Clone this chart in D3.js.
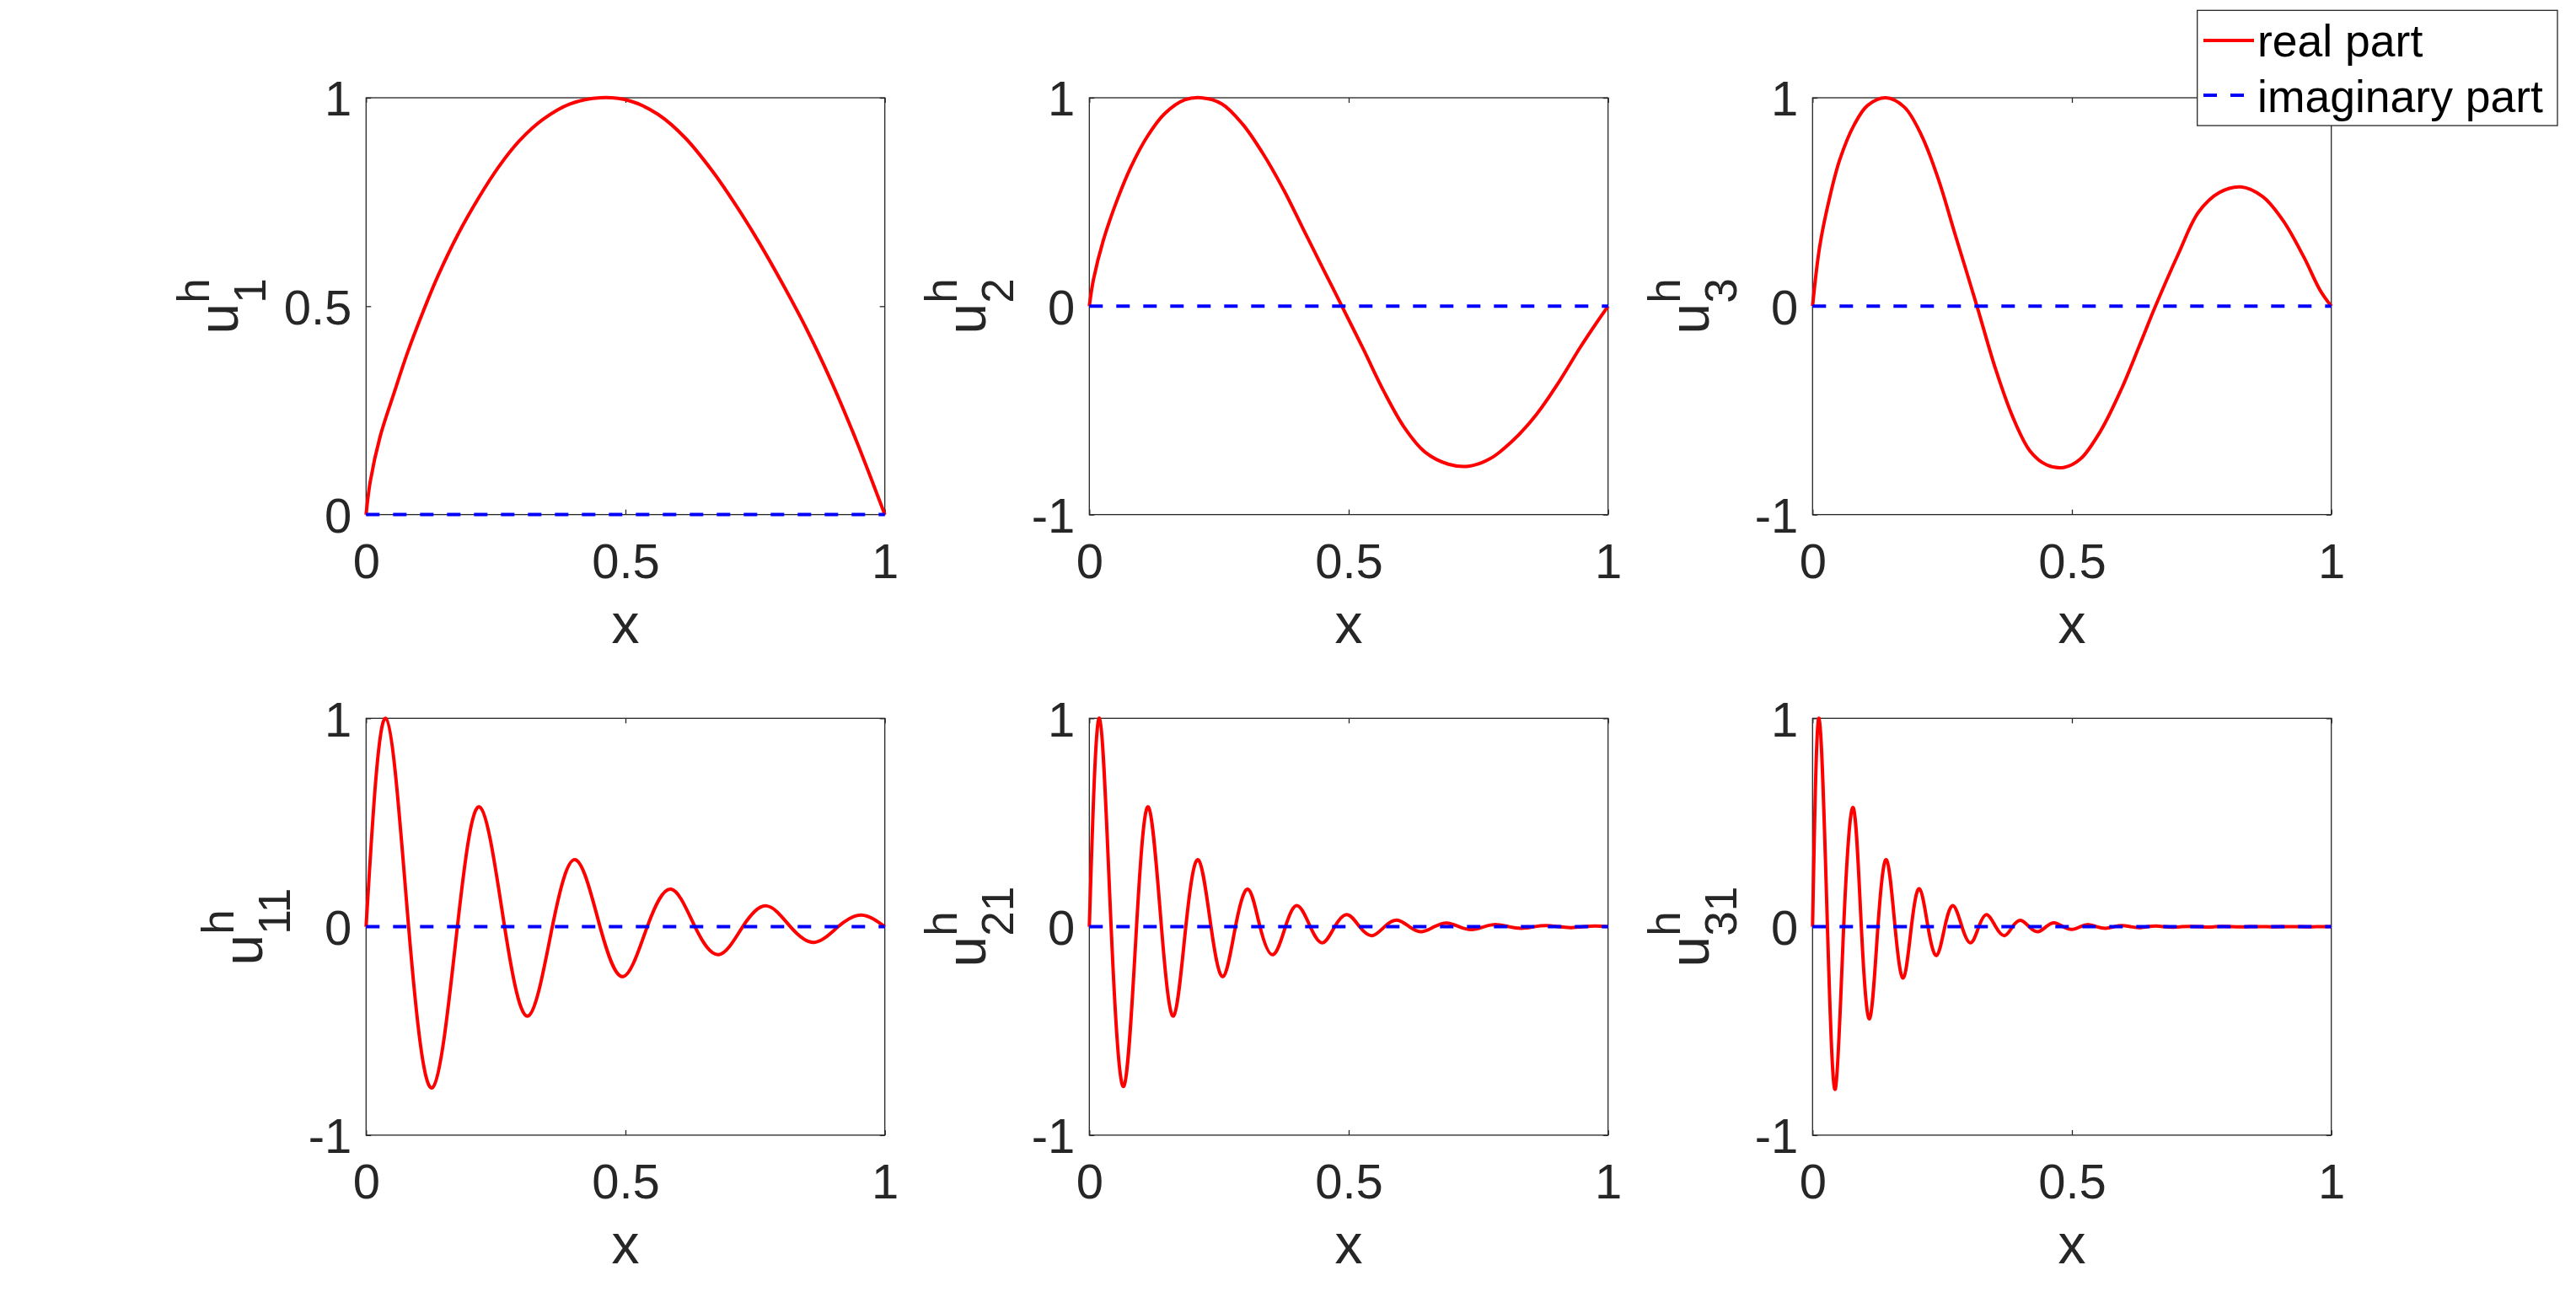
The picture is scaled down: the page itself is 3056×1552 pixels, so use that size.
<!DOCTYPE html>
<html>
<head>
<meta charset="utf-8">
<script src="https://cdn.jsdelivr.net/npm/d3@7"></script>
<style>
  body { margin: 0; background: #fff; }
  text { font-family: "Liberation Sans", Arial, Helvetica, sans-serif; }
</style>
</head>
<body>
<div id="chart"></div>
<script>
// values
var xTicks = [0, 0.5, 1]
var xTickLabels = ["0", "0.5", "1"]
var yTicksPos = [0, 0.5, 1]
var yTickLabelsPos = ["0", "0.5", "1"]
var yTicksSym = [-1, 0, 1]
var yTickLabelsSym = ["-1", "0", "1"]

var u1X = [0, 0.008, 0.027, 0.054, 0.080, 0.109, 0.138, 0.177, 0.217, 0.256, 0.295, 0.341, 0.393, 0.452, 0.510, 0.563, 0.615, 0.667, 0.713, 0.758, 0.804, 0.850, 0.896, 0.941, 0.974, 1.0]
var u1Y = [0, 0.079, 0.187, 0.292, 0.389, 0.484, 0.571, 0.672, 0.760, 0.835, 0.896, 0.948, 0.985, 1.0, 0.992, 0.960, 0.904, 0.825, 0.742, 0.652, 0.551, 0.443, 0.322, 0.19, 0.085, 0]

var u2X = [0, 0.008, 0.027, 0.053, 0.080, 0.112, 0.145, 0.184, 0.216, 0.256, 0.295, 0.334, 0.373, 0.412, 0.451, 0.487, 0.529, 0.568, 0.608, 0.647, 0.692, 0.731, 0.771, 0.816, 0.862, 0.907, 0.947, 0.979, 1.0]
var u2Y = [0, 0.128, 0.316, 0.505, 0.667, 0.815, 0.923, 0.990, 1.0, 0.970, 0.875, 0.735, 0.566, 0.372, 0.178, 0, -0.21, -0.41, -0.585, -0.70, -0.758, -0.768, -0.734, -0.646, -0.519, -0.357, -0.195, -0.075, 0]

var u3X = [0, 0.014, 0.034, 0.053, 0.080, 0.106, 0.141, 0.177, 0.210, 0.242, 0.275, 0.317, 0.353, 0.386, 0.419, 0.451, 0.484, 0.516, 0.555, 0.595, 0.630, 0.661, 0.705, 0.744, 0.784, 0.826, 0.868, 0.907, 0.947, 0.979, 1.0]
var u3Y = [0, 0.290, 0.532, 0.707, 0.869, 0.963, 1.0, 0.955, 0.820, 0.613, 0.343, 0, -0.303, -0.532, -0.694, -0.761, -0.774, -0.734, -0.60, -0.40, -0.19, 0, 0.25, 0.451, 0.545, 0.572, 0.525, 0.411, 0.236, 0.074, 0]

// row 2: extrema and zero crossings
var u11X = [0, 0.038, 0.082, 0.128, 0.176, 0.2195, 0.267, 0.3127, 0.359, 0.404, 0.451, 0.496, 0.542, 0.588, 0.634, 0.680, 0.726, 0.772, 0.818, 0.864, 0.910, 0.955, 1.0]
var u11Y = [0, 1.0, 0, -0.772, 0, 0.574, 0, -0.428, 0, 0.321, 0, -0.239, 0, 0.18, 0, -0.134, 0, 0.10, 0, -0.075, 0, 0.056, 0]

var u21X = [0, 0.0195, 0.042, 0.0666, 0.091, 0.114, 0.139, 0.1625, 0.186, 0.210, 0.2346, 0.258, 0.2817, 0.306, 0.329, 0.354, 0.378, 0.401, 0.426, 0.4496, 0.473, 0.497, 0.521, 0.545, 0.569, 0.593, 0.617, 0.641, 0.665, 0.689, 0.713, 0.737, 0.761, 0.785, 0.809, 0.833, 0.857, 0.881, 0.905, 0.929, 0.953, 0.976, 1.0]
var u21Y = [0, 1.0, 0, -0.765, 0, 0.574, 0, -0.428, 0, 0.321, 0, -0.239, 0, 0.18, 0, -0.134, 0, 0.101, 0, -0.077, 0, 0.058, 0, -0.043, 0, 0.032, 0, -0.024, 0, 0.018, 0, -0.0135, 0, 0.010, 0, -0.0075, 0, 0.0056, 0, -0.0042, 0, 0.003, 0]

var u31X = [0, 0.0125, 0.0287, 0.0439, 0.060, 0.0785, 0.094, 0.110, 0.126, 0.1425, 0.159, 0.175, 0.1905, 0.206, 0.2225, 0.239, 0.255, 0.271, 0.288, 0.305, 0.3205, 0.336, 0.353, 0.370, 0.3855, 0.401, 0.4175, 0.434, 0.45, 0.466, 0.483, 0.500, 0.516, 0.532, 0.548, 0.565, 0.581, 0.597, 0.6135, 0.630, 0.646, 0.662, 0.6785, 0.695, 0.711, 0.727, 0.7435, 0.760, 0.776, 0.792, 0.8085, 0.825, 0.841, 0.857, 0.8735, 0.890, 0.906, 0.922, 0.9385, 0.955, 0.971, 0.987, 1.0]
var u31Y = [0, 1.0, 0, -0.779, 0, 0.571, 0, -0.441, 0, 0.321, 0, -0.246, 0, 0.182, 0, -0.138, 0, 0.101, 0, -0.077, 0, 0.058, 0, -0.043, 0, 0.031, 0, -0.024, 0, 0.019, 0, -0.013, 0, 0.010, 0, -0.0075, 0, 0.0056, 0, -0.0042, 0, 0.0032, 0, -0.0024, 0, 0.0018, 0, -0.0013, 0, 0.001, 0, -0.0008, 0, 0.0006, 0, -0.0004, 0, 0.0003, 0, -0.0002, 0, 0.0002, 0]

// imaginary part is zero everywhere
var imagX = [0, 1]
var imagY = [0, 0]

var subscripts = ["1", "2", "3", "11", "21", "31"]
var legendLabels = ["real part", "imaginary part"]

// layout
var colLeft = [434.3, 1292.3, 2150.3]
var rowTop = [116, 852.3]
var pw = 615.4, ph = 494.6
var ink = "#262626"

var smooth = d3.curveCatmullRom.alpha(0.5)
var panels = [
  {xs: u1X, ys: u1Y, dom: [0, 1], ticks: yTicksPos, labels: yTickLabelsPos, curve: smooth},
  {xs: u2X, ys: u2Y, dom: [-1, 1], ticks: yTicksSym, labels: yTickLabelsSym, curve: smooth},
  {xs: u3X, ys: u3Y, dom: [-1, 1], ticks: yTicksSym, labels: yTickLabelsSym, curve: smooth},
  {xs: u11X, ys: u11Y, dom: [-1, 1], ticks: yTicksSym, labels: yTickLabelsSym, curve: d3.curveNatural},
  {xs: u21X, ys: u21Y, dom: [-1, 1], ticks: yTicksSym, labels: yTickLabelsSym, curve: d3.curveNatural},
  {xs: u31X, ys: u31Y, dom: [-1, 1], ticks: yTicksSym, labels: yTickLabelsSym, curve: d3.curveNatural}
]

var svg = d3.select("#chart")
  .append("svg")
    .attr("width", 3056)
    .attr("height", 1552)

svg.append("rect")
  .attr("width", 3056)
  .attr("height", 1552)
  .attr("fill", "#fff")

function styleAxis(ax) {
  ax.select(".domain").remove()
  ax.selectAll("line").attr("stroke", ink).attr("stroke-width", 1.3)
  ax.selectAll("text").attr("fill", ink).style("font-size", "58px")
}

panels.forEach(function(p, i) {
  var left = colLeft[i % 3], top = rowTop[Math.floor(i / 3)]
  var g = svg.append("g")
    .attr("transform", "translate(" + left + "," + top + ")")

  var x = d3.scaleLinear().domain([0, 1]).range([0, pw])
  var y = d3.scaleLinear().domain(p.dom).range([ph, 0])

  // ticks, inward on all four sides
  var xb = g.append("g")
    .attr("transform", "translate(0," + ph + ")")
    .call(d3.axisBottom(x).tickValues(xTicks).tickFormat(function(d, j) { return xTickLabels[j] }).tickSize(-6).tickSizeOuter(0))
  styleAxis(xb)
  xb.selectAll("text").attr("y", 75).attr("dy", null)

  var xt = g.append("g")
    .call(d3.axisTop(x).tickValues(xTicks).tickFormat("").tickSize(-6).tickSizeOuter(0))
  styleAxis(xt)

  var yl = g.append("g")
    .call(d3.axisLeft(y).tickValues(p.ticks).tickFormat(function(d, j) { return p.labels[j] }).tickSize(-6).tickSizeOuter(0))
  styleAxis(yl)
  yl.selectAll("text").attr("x", -17).attr("dy", "0.36em")

  var yr = g.append("g")
    .attr("transform", "translate(" + pw + ",0)")
    .call(d3.axisRight(y).tickValues(p.ticks).tickFormat("").tickSize(-6).tickSizeOuter(0))
  styleAxis(yr)

  // box
  g.append("rect")
    .attr("width", pw)
    .attr("height", ph)
    .attr("fill", "none")
    .attr("stroke", ink)
    .attr("stroke-width", 1.3)

  // real part
  var line = d3.line()
    .x(function(d) { return x(d[0]) })
    .y(function(d) { return y(d[1]) })
  g.append("path")
    .datum(d3.zip(p.xs, p.ys))
    .attr("d", line.curve(p.curve))
    .attr("fill", "none")
    .attr("stroke", "#ff0000")
    .attr("stroke-width", 4)

  // imaginary part
  g.append("path")
    .datum(d3.zip(imagX, imagY))
    .attr("d", d3.line().x(function(d) { return x(d[0]) }).y(function(d) { return y(d[1]) }))
    .attr("fill", "none")
    .attr("stroke", "#0000ff")
    .attr("stroke-width", 4)
    .attr("stroke-dasharray", "16,16")

  // x label
  g.append("text")
    .attr("x", pw / 2)
    .attr("y", ph + 152)
    .attr("text-anchor", "middle")
    .attr("fill", ink)
    .style("font-size", "66px")
    .text("x")

  // y label u^h_k, rotated
  var tw = d3.max(yl.selectAll("text").nodes(), function(n) { return n.getComputedTextLength() })
  var bx = -17 - tw - 55
  var lab = g.append("g")
    .attr("transform", "translate(" + bx + "," + (ph / 2) + ") rotate(-90)")
    .attr("fill", ink)
  var u = lab.append("text").style("font-size", "66px").text("u")
  var uw = u.node().getComputedTextLength()
  var h = lab.append("text").attr("x", uw).attr("y", -34).style("font-size", "53px").text("h")
  var s = lab.append("text").attr("x", uw).attr("y", 33).style("font-size", "53px").text(subscripts[i])
  var total = uw + Math.max(h.node().getComputedTextLength(), s.node().getComputedTextLength())
  u.attr("x", -total / 2)
  h.attr("x", uw - total / 2)
  s.attr("x", uw - total / 2)
})

// legend
var lg = svg.append("g")
lg.append("rect")
  .attr("x", 2606.7)
  .attr("y", 12.3)
  .attr("width", 427.3)
  .attr("height", 136.7)
  .attr("fill", "#fff")
  .attr("stroke", ink)
  .attr("stroke-width", 1.3)

lg.append("line")
  .attr("x1", 2614).attr("x2", 2674)
  .attr("y1", 48).attr("y2", 48)
  .attr("stroke", "#ff0000")
  .attr("stroke-width", 4)
lg.append("line")
  .attr("x1", 2614).attr("x2", 2674)
  .attr("y1", 113).attr("y2", 113)
  .attr("stroke", "#0000ff")
  .attr("stroke-width", 4)
  .attr("stroke-dasharray", "16,16")

lg.selectAll("text.leg")
  .data(legendLabels)
  .enter()
  .append("text")
    .attr("class", "leg")
    .attr("x", 2678)
    .attr("y", function(d, j) { return j == 0 ? 67 : 132.5 })
    .attr("fill", "#000")
    .style("font-size", "53.5px")
    .text(function(d) { return d })
</script>
</body>
</html>
